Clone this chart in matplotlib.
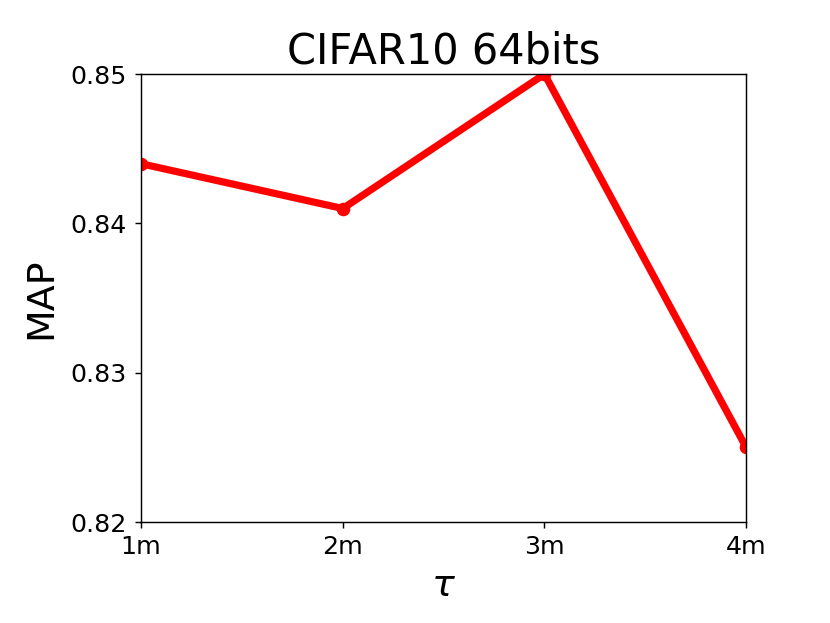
import matplotlib
matplotlib.use('Agg')
import matplotlib.pyplot as plt

# tau settings and MAP results
taus = [1, 2, 3, 4]
tick_labels = ['1m', '2m', '3m', '4m']
map_values = [0.844, 0.841, 0.850, 0.825]

fig, ax = plt.subplots(figsize=(830 / 130, 623 / 130), dpi=130)
fig.subplots_adjust(left=0.17, right=0.899, bottom=0.162, top=0.881)

ax.plot(taus, map_values, color='red', linewidth=4, marker='o', markersize=6.5)

ax.set_xlim(1, 4)
ax.set_ylim(0.82, 0.85)
ax.set_xticks(taus)
ax.set_xticklabels(tick_labels)
ax.set_yticks([0.82, 0.83, 0.84, 0.85])
ax.tick_params(labelsize=14)
ax.tick_params(axis='y', pad=4.5)

ax.set_title('CIFAR10 64bits', fontsize=23)
ax.set_xlabel(r'$\tau$', fontsize=21, labelpad=5)
ax.set_ylabel('MAP', fontsize=21, labelpad=6)

fig.savefig('out.png')
